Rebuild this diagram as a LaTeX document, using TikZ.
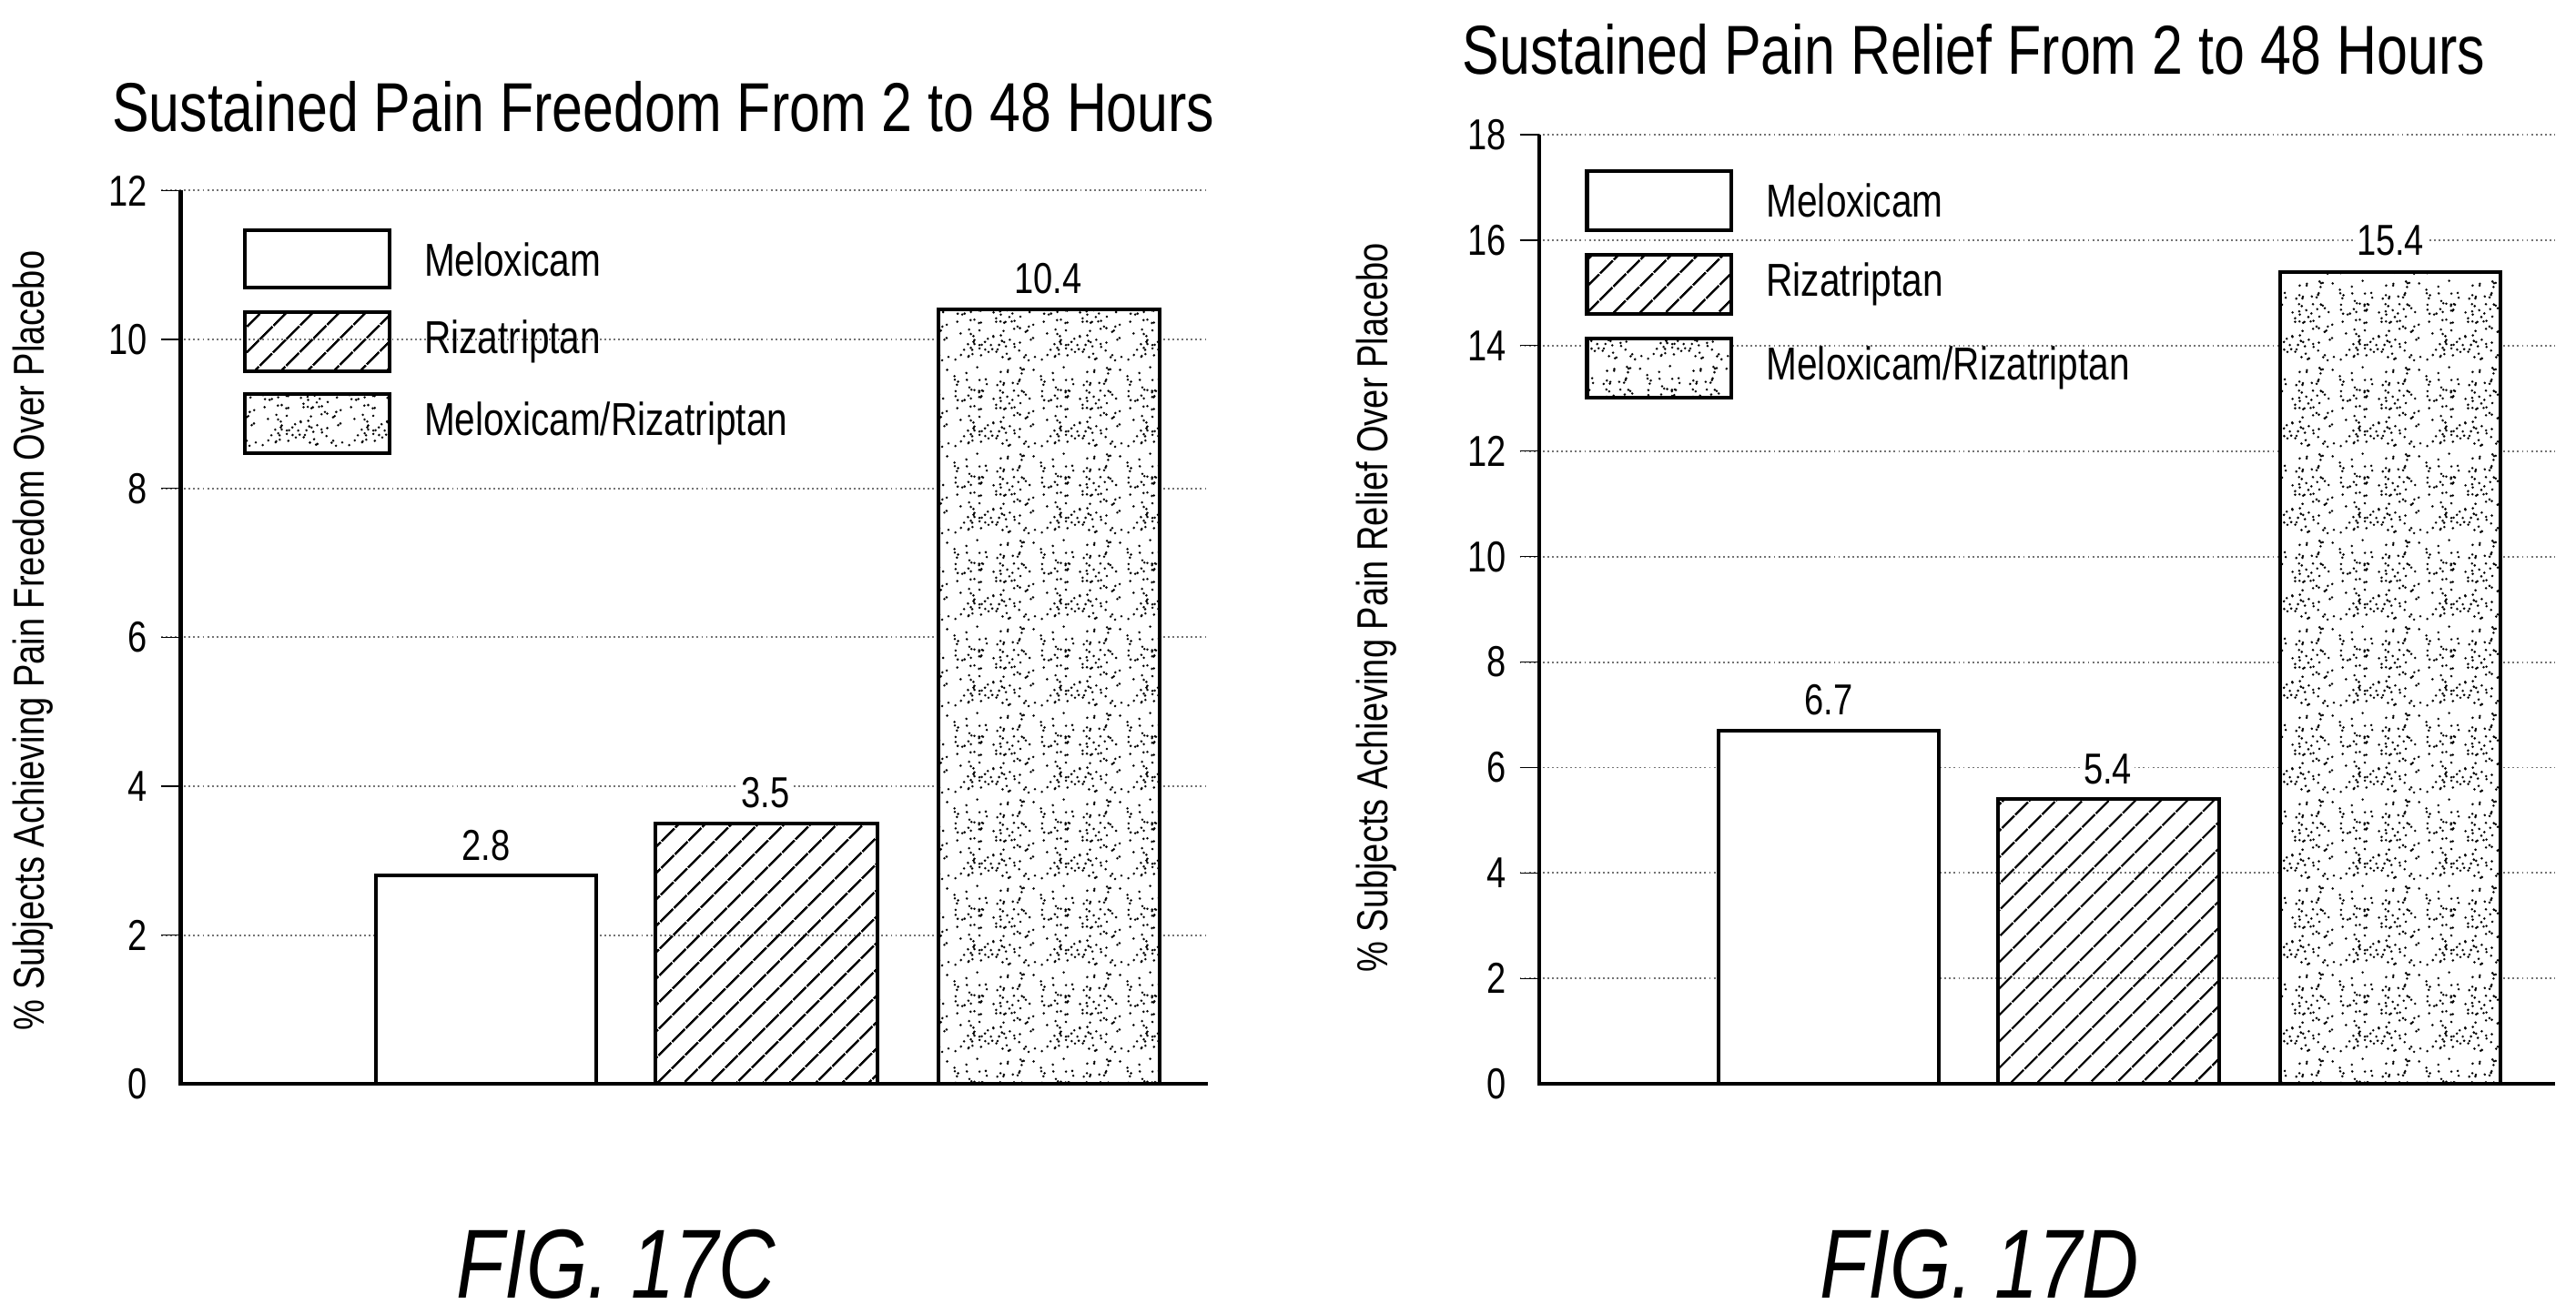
\documentclass[tikz,border=0pt]{standalone}
\usepackage{fontspec}
\setmainfont[FakeStretch=0.8]{Liberation Sans}
\usetikzlibrary{patterns,patterns.meta}
\pgfmathsetseed{11}
\pgfdeclarepatternformonly{stipple}{\pgfpointorigin}{\pgfqpoint{30pt}{30pt}}{\pgfqpoint{30pt}{30pt}}{%
  \foreach \k in {1,...,130}{%
    \pgfmathsetmacro{\px}{0.8+rnd*28.4}%
    \pgfmathsetmacro{\py}{0.8+rnd*28.4}%
    \pgfpathcircle{\pgfpoint{\px pt}{\py pt}}{0.45pt}}%
  \pgfusepath{fill}}
\begin{document}
\begin{tikzpicture}[x=0.02cm,y=-0.02cm,
  grid/.style={gray!90!black,line width=0.6pt,densely dotted},
  axisline/.style={line width=1.3pt},
  barbox/.style={draw,line width=1.3pt},
  hatchbar/.style={barbox,pattern={Lines[angle=45,distance=6.5pt,line width=0.8pt]}},
  dotbar/.style={barbox,fill=white,postaction={pattern=stipple}},
  ticklab/.style={anchor=east,font=\fontsize{15}{15}\selectfont},
  vallab/.style={anchor=south,font=\fontsize{15}{15}\selectfont,fill=white,inner sep=1pt,yshift=4pt},
  legtext/.style={anchor=west,font=\fontsize{16}{16}\selectfont},
  titlestyle/.style={anchor=west,font=\fontsize{24}{24}\selectfont},
  ylab/.style={rotate=90,font=\fontsize{15}{15}\selectfont},
  figlab/.style={font=\fontsize{34}{34}\selectfont\itshape}]
\useasboundingbox (0,0) rectangle (1568,800);
% ---------- Left chart ----------
\node[titlestyle] (t1) at (62,65) {Sustained Pain Freedom From 2 to 48 Hours};
\foreach \v in {2,4,...,12}{
  \draw[grid] (98,{660-45.33*\v}) -- (735,{660-45.33*\v});
  \draw (98,{660-45.33*\v}) -- (110,{660-45.33*\v});}
\foreach \v in {0,2,...,12} \node[ticklab] (l\v) at (96,{660-45.33*\v}) {\v};
\draw[axisline] (110,116) -- (110,660) -- (735,660);
\draw[barbox,fill=white] (229,660) rectangle (363,{660-45.33*2.8});
\draw[hatchbar] (399,660) rectangle (534,{660-45.33*3.5});
\draw[dotbar] (571,660) rectangle (706,188.6);
\node[vallab] (v1) at (296,{660-45.33*2.8}) {2.8};
\node[vallab] (v2) at (466,{660-45.33*3.5}) {3.5};
\node[vallab] (v3) at (638,188) {10.4};
\draw[barbox,fill=white] (149,140) rectangle (237,175);
\draw[hatchbar] (149,190) rectangle (237,226);
\draw[dotbar] (149,240) rectangle (237,276);
\node[legtext] (a1) at (252,158) {Meloxicam};
\node[legtext] (a2) at (252,208) {Rizatriptan};
\node[legtext] (a3) at (252,258) {Meloxicam/Rizatriptan};
\node[ylab] (y1) at (20,390) {\% Subjects Achieving Pain Freedom Over Placebo};
\node[figlab] (f1) at (375,770) {FIG. 17C};
% ---------- Right chart ----------
\node[titlestyle] (t2) at (884,30) {Sustained Pain Relief From 2 to 48 Hours};
\foreach \v in {2,4,...,18}{
  \draw[grid] (925,{660-32.11*\v}) -- (1555,{660-32.11*\v});
  \draw (925,{660-32.11*\v}) -- (937,{660-32.11*\v});}
\foreach \v in {0,2,...,18} \node[ticklab] (r\v) at (923,{660-32.11*\v}) {\v};
\draw[axisline] (937,82) -- (937,660) -- (1555,660);
\draw[barbox,fill=white] (1046,660) rectangle (1180,{660-32.11*6.7});
\draw[hatchbar] (1216,660) rectangle (1351,{660-32.11*5.4});
\draw[dotbar] (1388,660) rectangle (1522,165.5);
\node[vallab] (w1) at (1113,{660-32.11*6.7}) {6.7};
\node[vallab] (w2) at (1283,{660-32.11*5.4}) {5.4};
\node[vallab] (w3) at (1455,165) {15.4};
\draw[barbox,fill=white] (966,104) rectangle (1054,140);
\draw[hatchbar] (966,155) rectangle (1054,191);
\draw[dotbar] (966,206) rectangle (1054,242);
\node[legtext] (b1) at (1069,122) {Meloxicam};
\node[legtext] (b2) at (1069,173) {Rizatriptan};
\node[legtext] (b3) at (1069,224) {Meloxicam/Rizatriptan};
\node[ylab] (y2) at (838,370) {\% Subjects Achieving Pain Relief Over Placebo};
\node[figlab] (f2) at (1205,770) {FIG. 17D};
\end{tikzpicture}
\end{document}
